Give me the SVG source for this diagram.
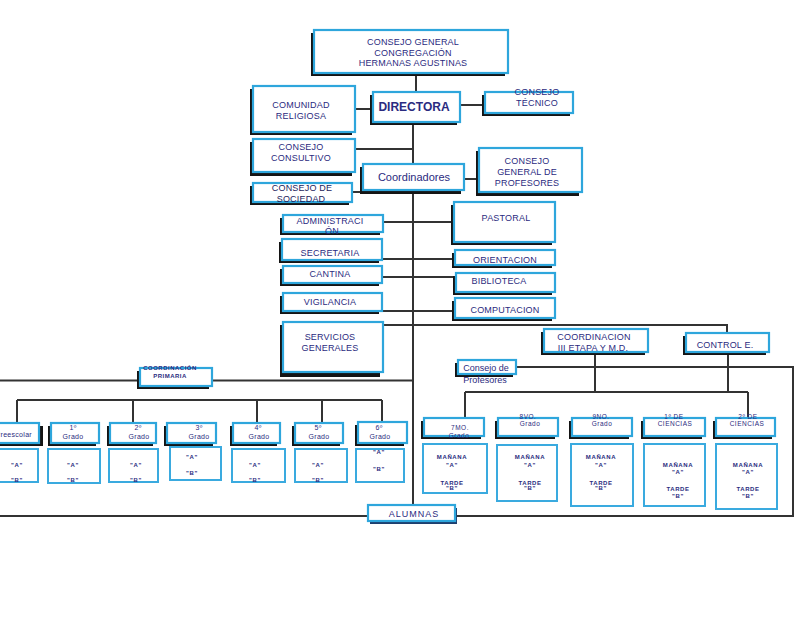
<svg xmlns="http://www.w3.org/2000/svg" width="795" height="644" viewBox="0 0 795 644">
<style>
.sh{fill:#141414}
.bx{fill:#fff;stroke:#2ea6dc;stroke-width:2.2}
.pb{fill:#fff;stroke:#3aaadf;stroke-width:2}
.ln{stroke:#333;stroke-width:2;fill:none}
text{font-family:"Liberation Sans",Arial,sans-serif;fill:#2b2b80;text-anchor:middle}
.m{font-size:9px;letter-spacing:0.2px}
.sm{font-size:6px;font-weight:bold;letter-spacing:0.6px}
.h{font-size:6.5px;letter-spacing:0.5px}
.g{font-size:7px;letter-spacing:0.3px}
</style>
<rect width="795" height="644" fill="#fff"/>
<g id="connectors">
<path class="ln" d="M416,73V92M413,122V164M413,190V505"/>
<path class="ln" d="M355,109H373M460,105H485M355,149H413M352,192H363M464,179H479"/>
<path class="ln" d="M383,222H454M382,259H455M382,277H456M382,311H455"/>
<path class="ln" d="M383,325H727V333"/>
<path class="ln" d="M0,380.5H140M212,380.5H413"/>
<path class="ln" d="M17,400H382M17,400V423M133,400V423M257,400V423M322,400V423M382,400V423"/>
<path class="ln" d="M0,516H368M455,516H793V367H516"/>
<path class="ln" d="M595,352V392M728,352V392M465,392H748M465,392V418M748,392V418"/>
</g>
<g id="consejo-general"><rect class="sh" x="311" y="33" width="194" height="43"/><rect class="bx" x="314" y="30" width="194" height="43"/>
<text class="m" x="413" y="45">CONSEJO GENERAL</text><text class="m" x="413" y="55.5">CONGREGACIÓN</text><text class="m" x="413" y="65.5">HERMANAS AGUSTINAS</text></g>
<g id="directora"><rect class="sh" x="370" y="95" width="87" height="30"/><rect class="bx" x="373" y="92" width="87" height="30"/>
<text x="414" y="111" style="font-size:12px;font-weight:bold">DIRECTORA</text></g>
<g id="comunidad"><rect class="sh" x="250" y="89" width="102" height="46"/><rect class="bx" x="253" y="86" width="102" height="46"/>
<text class="m" x="301" y="108">COMUNIDAD</text><text class="m" x="301" y="119">RELIGIOSA</text></g>
<g id="tecnico"><rect class="sh" x="482" y="95" width="88" height="21"/><rect class="bx" x="485" y="92" width="88" height="21"/>
<text class="m" x="537" y="95">CONSEJO</text><text class="m" x="537" y="106">TÉCNICO</text></g>
<g id="consultivo"><rect class="sh" x="250" y="142" width="102" height="34"/><rect class="bx" x="253" y="139" width="102" height="33"/>
<text class="m" x="301" y="150">CONSEJO</text><text class="m" x="301" y="161">CONSULTIVO</text></g>
<g id="coordinadores"><rect class="sh" x="360" y="167" width="101" height="27"/><rect class="bx" x="363" y="164" width="101" height="26"/>
<text x="414" y="181" style="font-size:11px">Coordinadores</text></g>
<g id="cgp"><rect class="sh" x="476" y="151" width="103" height="45"/><rect class="bx" x="479" y="148" width="103" height="44"/>
<text class="m" x="527" y="164">CONSEJO</text><text class="m" x="527" y="175">GENERAL DE</text><text class="m" x="527" y="185.5">PROFESORES</text></g>
<g id="sociedad"><rect class="sh" x="250" y="186" width="99" height="19"/><rect class="bx" x="253" y="183" width="99" height="19"/>
<text class="m" x="302" y="191" style="fill:#1c1c5c">CONSEJO DE</text><text class="m" x="301" y="201.5" style="fill:#1c1c5c">SOCIEDAD</text></g>
<g id="pastoral"><rect class="sh" x="451" y="205" width="101" height="40"/><rect class="bx" x="454" y="202" width="101" height="40"/>
<text class="m" x="506" y="221">PASTORAL</text></g>
<g id="administracion"><rect class="sh" x="280" y="218" width="100" height="17"/><rect class="bx" x="283" y="215" width="100" height="17"/>
<text class="m" x="330" y="224">ADMINISTRACI</text><text class="m" x="332" y="234">ÓN</text></g>
<g id="secretaria"><rect class="sh" x="279" y="242" width="100" height="21"/><rect class="bx" x="282" y="239" width="100" height="21"/>
<text class="m" x="330" y="256">SECRETARIA</text></g>
<g id="orientacion"><rect class="sh" x="452" y="253" width="100" height="15"/><rect class="bx" x="455" y="250" width="100" height="15"/>
<text class="m" x="505" y="262.5">ORIENTACION</text></g>
<g id="cantina"><rect class="sh" x="280" y="269" width="99" height="17"/><rect class="bx" x="283" y="266" width="99" height="17"/>
<text class="m" x="330" y="276.5">CANTINA</text></g>
<g id="biblioteca"><rect class="sh" x="453" y="276" width="99" height="19"/><rect class="bx" x="456" y="273" width="99" height="19"/>
<text class="m" x="499" y="284">BIBLIOTECA</text></g>
<g id="vigilancia"><rect class="sh" x="280" y="296" width="99" height="18"/><rect class="bx" x="283" y="293" width="99" height="18"/>
<text class="m" x="330" y="305">VIGILANCIA</text></g>
<g id="computacion"><rect class="sh" x="452" y="301" width="100" height="20"/><rect class="bx" x="455" y="298" width="100" height="20"/>
<text class="m" x="505" y="312.5">COMPUTACION</text></g>
<g id="servicios"><rect class="sh" x="280" y="325" width="100" height="52"/><rect class="bx" x="283" y="322" width="100" height="50"/>
<text class="m" x="330" y="340">SERVICIOS</text><text class="m" x="330" y="351">GENERALES</text></g>
<g id="coord-iii"><rect class="sh" x="541" y="332" width="104" height="23"/><rect class="bx" x="544" y="329" width="104" height="23"/>
<text class="m" x="594" y="340">COORDINACION</text><text class="m" x="593" y="351">III ETAPA Y M.D.</text></g>
<g id="control"><rect class="sh" x="683" y="336" width="83" height="19"/><rect class="bx" x="686" y="333" width="83" height="19"/>
<text class="m" x="725" y="347.5">CONTROL E.</text></g>
<g id="consejo-profesores"><rect class="sh" x="455" y="363" width="58" height="14"/><rect class="bx" x="458" y="360" width="58" height="14"/>
<text x="486" y="371" style="font-size:9px">Consejo de</text><text x="485" y="383" style="font-size:9px">Profesores</text></g>
<g id="alumnas"><rect class="sh" x="370" y="508" width="87" height="16" style="fill:#1d3f6e"/><rect class="bx" x="368" y="505" width="87" height="16"/>
<text class="m" x="414" y="517" style="letter-spacing:1px">ALUMNAS</text></g>
<g id="primaria"><rect class="sh" x="137" y="371" width="72" height="18"/><rect class="bx" x="140" y="368" width="72" height="18"/>
<text x="170" y="369.5" style="font-size:6px;font-weight:bold;letter-spacing:0.5px">COORDINACIÓN</text><text x="170" y="377.5" style="font-size:6px;font-weight:bold;letter-spacing:0.5px">PRIMARIA</text></g>
<g id="preescolar"><rect class="sh" x="-7" y="426" width="50" height="20"/><rect class="bx" x="-10" y="423" width="49" height="20"/>
<text class="g" x="32" y="437" style="text-anchor:end">Preescolar</text></g>
<g id="g1"><rect class="sh" x="48" y="426" width="48" height="20"/><rect class="bx" x="51" y="423" width="48" height="20"/>
<text class="g" x="73" y="429.5">1º</text><text class="g" x="73" y="438.5">Grado</text></g>
<g id="g2"><rect class="sh" x="107" y="426" width="46" height="20"/><rect class="bx" x="110" y="423" width="46" height="20"/>
<text class="g" x="138" y="429.5">2º</text><text class="g" x="139" y="438.5">Grado</text></g>
<g id="g3"><rect class="sh" x="164" y="426" width="49" height="20"/><rect class="bx" x="167" y="423" width="49" height="20"/>
<text class="g" x="199" y="429.5">3º</text><text class="g" x="199" y="438.5">Grado</text></g>
<g id="g4"><rect class="sh" x="230" y="426" width="47" height="20"/><rect class="bx" x="233" y="423" width="47" height="20"/>
<text class="g" x="258" y="429.5">4º</text><text class="g" x="259" y="438.5">Grado</text></g>
<g id="g5"><rect class="sh" x="292" y="426" width="48" height="20"/><rect class="bx" x="295" y="423" width="48" height="20"/>
<text class="g" x="318" y="429.5">5º</text><text class="g" x="319" y="438.5">Grado</text></g>
<g id="g6"><rect class="sh" x="355" y="425" width="49" height="21"/><rect class="bx" x="358" y="422" width="49" height="21"/>
<text class="g" x="379" y="429.5">6º</text><text class="g" x="380" y="438.5">Grado</text></g>
<g id="pre-sec"><rect class="pb" x="-5" y="449" width="43" height="33"/><text class="sm" x="17" y="466.5">"A"</text><text class="sm" x="17" y="481.5">"B"</text></g>
<g id="g1-sec"><rect class="pb" x="48" y="449" width="52" height="34"/><text class="sm" x="73" y="466.5">"A"</text><text class="sm" x="73" y="481.5">"B"</text></g>
<g id="g2-sec"><rect class="pb" x="109" y="449" width="49" height="33"/><text class="sm" x="136" y="466.5">"A"</text><text class="sm" x="136" y="481.5">"B"</text></g>
<g id="g3-sec"><rect class="pb" x="170" y="447" width="51" height="33"/><text class="sm" x="192" y="459">"A"</text><text class="sm" x="192" y="475">"B"</text></g>
<g id="g4-sec"><rect class="pb" x="232" y="449" width="53" height="33"/><text class="sm" x="255" y="466.5">"A"</text><text class="sm" x="255" y="481.5">"B"</text></g>
<g id="g5-sec"><rect class="pb" x="295" y="449" width="52" height="33"/><text class="sm" x="318" y="466.5">"A"</text><text class="sm" x="318" y="481.5">"B"</text></g>
<g id="g6-sec"><rect class="pb" x="356" y="449" width="48" height="33"/><text class="sm" x="379" y="454">"A"</text><text class="sm" x="379" y="470.5">"B"</text></g>
<g id="g7"><rect class="sh" x="421" y="421" width="60" height="18"/><rect class="bx" x="424" y="418" width="60" height="18"/>
<text class="h" x="460" y="430">7MO.</text><text class="h" x="459" y="438">Grado</text></g>
<g id="g8"><rect class="sh" x="495" y="421" width="60" height="18"/><rect class="bx" x="498" y="418" width="60" height="18"/>
<text class="h" x="528" y="418.5">8VO.</text><text class="h" x="530" y="426">Grado</text></g>
<g id="g9"><rect class="sh" x="569" y="421" width="60" height="18"/><rect class="bx" x="572" y="418" width="60" height="18"/>
<text class="h" x="601" y="418.5">9NO.</text><text class="h" x="602" y="426">Grado</text></g>
<g id="c1"><rect class="sh" x="641" y="421" width="61" height="18"/><rect class="bx" x="644" y="418" width="61" height="18"/>
<text class="h" x="674" y="418.5">1º DE</text><text class="h" x="675" y="426">CIENCIAS</text></g>
<g id="c2"><rect class="sh" x="713" y="421" width="59" height="18"/><rect class="bx" x="716" y="418" width="59" height="18"/>
<text class="h" x="748" y="418.5">2º DE</text><text class="h" x="747" y="426">CIENCIAS</text></g>
<g id="g7-sec"><rect class="pb" x="423" y="444" width="64" height="49"/><text class="sm" x="452" y="459">MAÑANA</text><text class="sm" x="452" y="466.5">"A"</text><text class="sm" x="452" y="484.5">TARDE</text><text class="sm" x="452" y="490">"B"</text></g>
<g id="g8-sec"><rect class="pb" x="497" y="445" width="60" height="56"/><text class="sm" x="530" y="459">MAÑANA</text><text class="sm" x="530" y="466.5">"A"</text><text class="sm" x="530" y="484.5">TARDE</text><text class="sm" x="530" y="490">"B"</text></g>
<g id="g9-sec"><rect class="pb" x="571" y="444" width="62" height="62"/><text class="sm" x="601" y="459">MAÑANA</text><text class="sm" x="601" y="466.5">"A"</text><text class="sm" x="601" y="484.5">TARDE</text><text class="sm" x="601" y="490">"B"</text></g>
<g id="c1-sec"><rect class="pb" x="644" y="444" width="61" height="62"/><text class="sm" x="678" y="466.5">MAÑANA</text><text class="sm" x="678" y="474">"A"</text><text class="sm" x="678" y="491">TARDE</text><text class="sm" x="678" y="497.5">"B"</text></g>
<g id="c2-sec"><rect class="pb" x="716" y="444" width="61" height="65"/><text class="sm" x="748" y="466.5">MAÑANA</text><text class="sm" x="748" y="474">"A"</text><text class="sm" x="748" y="491">TARDE</text><text class="sm" x="748" y="497.5">"B"</text></g>
</svg>
